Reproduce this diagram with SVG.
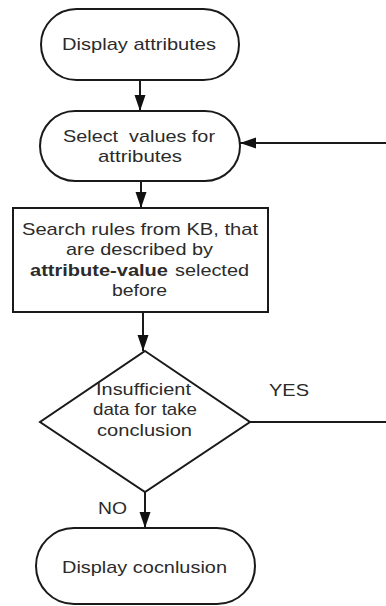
<svg xmlns="http://www.w3.org/2000/svg" width="386" height="606" viewBox="0 0 386 606">
<defs>
<marker id="ah" markerWidth="16" markerHeight="12" refX="16" refY="6" orient="auto" markerUnits="userSpaceOnUse">
<path d="M0,0.5 L16,6 L0,11.5 z" fill="#111"/>
</marker>
<style>
.shape{fill:#fff;stroke:#1a1a1a;stroke-width:2}
.conn{fill:none;stroke:#1a1a1a;stroke-width:2}
text{font-family:"Liberation Sans",Arial,sans-serif;font-size:17px;fill:#2b2b2b;white-space:pre}
.b{font-weight:bold}
</style>
</defs>
<rect width="386" height="606" fill="#fff"/>
<g id="connectors">
<line class="conn" x1="140" y1="80" x2="140" y2="111" marker-end="url(#ah)"/>
<line class="conn" x1="141" y1="181" x2="141" y2="208" marker-end="url(#ah)"/>
<line class="conn" x1="143" y1="312" x2="143" y2="351" marker-end="url(#ah)"/>
<line class="conn" x1="145" y1="492" x2="145" y2="528" marker-end="url(#ah)"/>
<path class="conn" d="M250,422 L392,422 L392,143 L240,143" marker-end="url(#ah)"/>
<text x="98" y="514" textLength="29" lengthAdjust="spacingAndGlyphs">NO</text>
<text x="269" y="396" textLength="40" lengthAdjust="spacingAndGlyphs">YES</text>
</g>
<g id="display-attributes">
<rect class="shape" x="41" y="9" width="198" height="71" rx="35.5" ry="35.5"/>
<text x="62" y="50" textLength="154" lengthAdjust="spacingAndGlyphs">Display attributes</text>
</g>
<g id="select-values">
<rect class="shape" x="40" y="111" width="200" height="70" rx="35" ry="35"/>
<text x="63" y="142" textLength="152" lengthAdjust="spacingAndGlyphs">Select  values for</text>
<text x="98" y="162" textLength="84" lengthAdjust="spacingAndGlyphs">attributes</text>
</g>
<g id="search-rules">
<rect class="shape" x="13" y="208" width="255" height="104"/>
<text x="22" y="235" textLength="236" lengthAdjust="spacingAndGlyphs">Search rules from KB, that</text>
<text x="66" y="255" textLength="147" lengthAdjust="spacingAndGlyphs">are described by</text>
<text class="b" x="30" y="276" textLength="138" lengthAdjust="spacingAndGlyphs">attribute-value</text>
<text x="175" y="276" textLength="74" lengthAdjust="spacingAndGlyphs">selected</text>
<text x="112" y="296" textLength="55" lengthAdjust="spacingAndGlyphs">before</text>
</g>
<g id="decision">
<polygon class="shape" points="145,351 250,422 145,492 40,422"/>
<text x="96" y="395" textLength="95" lengthAdjust="spacingAndGlyphs">Insufficient</text>
<text x="93" y="415" textLength="104" lengthAdjust="spacingAndGlyphs">data for take</text>
<text x="97" y="436" textLength="95" lengthAdjust="spacingAndGlyphs">conclusion</text>
</g>
<g id="display-conclusion">
<rect class="shape" x="36" y="528" width="219" height="76" rx="38" ry="38"/>
<text x="62" y="573" textLength="165" lengthAdjust="spacingAndGlyphs">Display cocnlusion</text>
</g>
</svg>
